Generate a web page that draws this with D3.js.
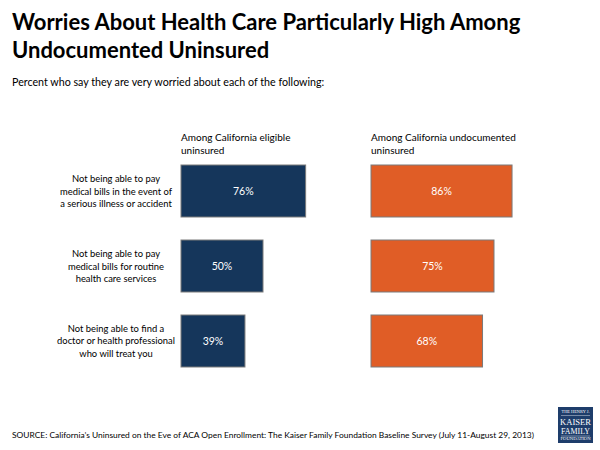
<!DOCTYPE html>
<html>
<head>
<meta charset="utf-8">
<script src="https://cdn.jsdelivr.net/npm/d3@7"></script>
<style>
  html, body { margin: 0; padding: 0; background: #fff; }
  svg { display: block; font-family: Lato, "Open Sans", sans-serif; }
</style>
</head>
<body>
<svg id="chart" width="600" height="450"></svg>
<script>
const titleLines = ["Worries About Health Care Particularly High Among", "Undocumented Uninsured"];
const subtitle = "Percent who say they are very worried about each of the following:";
const categories = [
  ["Not being able to pay", "medical bills in the event of", "a serious illness or accident"],
  ["Not being able to pay", "medical bills for routine", "health care services"],
  ["Not being able to find a", "doctor or health professional", "who will treat you"]
];
const seriesNames = [["Among California eligible", "uninsured"], ["Among California undocumented", "uninsured"]];
const eligibleValues = [76, 50, 39];
const undocumentedValues = [86, 75, 68];
const source = "SOURCE: California\u2019s Uninsured on the Eve of ACA Open Enrollment: The Kaiser Family Foundation Baseline Survey (July 11-August 29, 2013)";
const colors = ["#15365b", "#e05d26"];

const svg = d3.select("#chart");

// shrink a text's font so that it fits a given width
function fit(sel, w) {
  const n = sel.node();
  const len = n.getComputedTextLength();
  if (len > w) {
    const fs = parseFloat(sel.attr("font-size"));
    sel.attr("font-size", (fs * w / len).toFixed(2));
  }
}

// Title
svg.append("text").attr("x", 12).attr("y", 30).attr("font-weight", 700).attr("font-size", 22).attr("fill", "#000")
  .selectAll("tspan").data(titleLines).join("tspan")
  .attr("x", 12).attr("dy", (d, i) => i === 0 ? 0 : 28).text(d => d);

svg.append("text").attr("x", 12).attr("y", 86).attr("font-size", 10.7).attr("fill", "#000").text(subtitle);

const idx = categories.map((d, i) => i);
const y = d3.scaleBand().domain(idx).range([142, 390]).paddingInner(0.3067).paddingOuter(0.3067);
const xScales = [
  d3.scaleLinear().domain([0, 100]).range([181, 345]),
  d3.scaleLinear().domain([0, 100]).range([371, 535])
];
const seriesData = [eligibleValues, undocumentedValues];

// Category labels
categories.forEach((lines, i) => {
  const cy = y(i) + y.bandwidth() / 2;
  svg.append("text").attr("text-anchor", "middle").attr("font-size", 9.4).attr("fill", "#000")
    .selectAll("tspan").data(lines).join("tspan")
    .attr("x", 116).attr("y", (d, j) => cy + 3.5 + (j - 1) * 12.4).text(d => d);
});

// Series
seriesData.forEach((vals, s) => {
  const x = xScales[s];
  svg.append("text").attr("font-size", 10).attr("fill", "#000")
    .selectAll("tspan").data(seriesNames[s]).join("tspan")
    .attr("x", x(0)).attr("y", (d, j) => 141 + j * 12.5).text(d => d);

  const g = svg.append("g");
  g.selectAll("rect").data(vals).join("rect")
    .attr("x", x(0)).attr("y", (d, i) => y(i))
    .attr("width", d => x(d) - x(0)).attr("height", y.bandwidth())
    .attr("fill", colors[s]).attr("stroke", "#7a7a7a").attr("stroke-width", 1);
  g.selectAll("text").data(vals).join("text")
    .attr("x", d => (x(0) + x(d)) / 2).attr("y", (d, i) => y(i) + y.bandwidth() / 2 + 4)
    .attr("text-anchor", "middle").attr("font-size", 10.5).attr("fill", "#fff")
    .text(d => d + "%");
});

// Source
const src = svg.append("text").attr("x", 12).attr("y", 438).attr("font-size", 9).attr("fill", "#000").text(source);
fit(src, 522);

// Logo
const logo = svg.append("g").attr("transform", "translate(558,407)");
logo.append("rect").attr("width", 35).attr("height", 36).attr("fill", "#1e3d6b");
const lf = "'Liberation Serif', 'DejaVu Serif', serif";
logo.append("text").attr("x", 17.5).attr("y", 6).attr("text-anchor", "middle").attr("font-family", lf).attr("font-size", 3.5).attr("fill", "#fff").attr("textLength", 28).attr("lengthAdjust", "spacingAndGlyphs").text("THE HENRY J.");
logo.append("line").attr("x1", 3).attr("x2", 32).attr("y1", 8.5).attr("y2", 8.5).attr("stroke", "#fff").attr("stroke-width", 0.4);
logo.append("text").attr("x", 17.5).attr("y", 17.5).attr("text-anchor", "middle").attr("font-family", lf).attr("font-size", 7.5).attr("fill", "#fff").attr("textLength", 31).attr("lengthAdjust", "spacingAndGlyphs").text("KAISER");
logo.append("text").attr("x", 17.5).attr("y", 26.5).attr("text-anchor", "middle").attr("font-family", lf).attr("font-size", 7.5).attr("fill", "#fff").attr("textLength", 29).attr("lengthAdjust", "spacingAndGlyphs").text("FAMILY");
logo.append("line").attr("x1", 3).attr("x2", 32).attr("y1", 29).attr("y2", 29).attr("stroke", "#fff").attr("stroke-width", 0.4);
logo.append("text").attr("x", 17.5).attr("y", 33).attr("text-anchor", "middle").attr("font-family", lf).attr("font-size", 3.5).attr("fill", "#fff").attr("textLength", 30).attr("lengthAdjust", "spacingAndGlyphs").text("FOUNDATION");
</script>
</body>
</html>
